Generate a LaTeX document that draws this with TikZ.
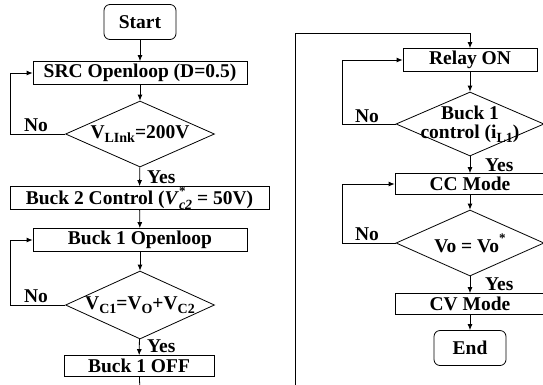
\documentclass[tikz,border=0pt]{standalone}
\usepackage{fontspec}
\setmainfont{Liberation Serif}
\usetikzlibrary{shapes.geometric,arrows.meta}
\newcommand\subtxt[1]{\raisebox{-0.22em}{\fontsize{14}{14}\selectfont #1}}
\newcommand\suptxt[1]{\raisebox{0.5em}{\fontsize{13}{13}\selectfont #1}}
\newcommand\vstar{\textit{V}\rlap{\suptxt{*}}\subtxt{\textit{c2}}}
\begin{document}
\begin{tikzpicture}[x=1pt,y=-1pt,
  font=\fontsize{19.5}{20}\selectfont\bfseries,
  box/.style={draw, line width=0.8pt, minimum height=23pt, inner sep=0pt},
  term/.style={box, rounded corners=6pt, minimum width=72pt, minimum height=35pt},
  dec/.style={draw, diamond, line width=0.8pt, minimum width=149pt, minimum height=66pt, inner sep=0pt},
  flow/.style={line width=0.8pt, -{Latex[length=6pt,width=5pt]}},
  plain/.style={line width=0.8pt},
  lbl/.style={inner sep=1pt}
]
\clip (0,0) rectangle (543,384);
% left column
\node[term] (start) at (140,22) {Start};
\node[box, minimum width=214pt] (src) at (140,73) {SRC Openloop (D=0.5)};
\node[dec] (d1) at (140,134) {};
\node (t1) at (d1.center) {V\subtxt{LInk}=200V};
\node[box, minimum width=259pt] (buck2) at (139.5,198) {Buck 2 Control (\vstar{} = 50V)};
\node[box, minimum width=214pt] (b1open) at (140,240) {Buck 1 Openloop};
\node[dec, minimum height=68pt] (d2) at (140,305) {};
\node (t2) at (d2.center) {V\subtxt{C1}=V\subtxt{O}+V\subtxt{C2}};
\node[box, minimum width=150pt, minimum height=21pt] (b1off) at (139,366) {Buck 1 OFF};
\node[lbl] (no1) at (36,125) {No};
\node[lbl] (no2) at (36,296) {No};
\node[lbl, anchor=west] (yes1) at (146,177) {Yes};
\node[lbl, anchor=west] (yes2) at (146,346) {Yes};
% right column
\node[box, minimum width=134pt] (relay) at (470,60) {Relay ON};
\node[dec, minimum width=148pt, minimum height=64pt] (d3) at (470,124) {};
\node[align=center] (t3) at (d3.center) {Buck 1\\[-1pt]control (i\subtxt{L1})};
\node[box, minimum width=150pt, minimum height=21pt] (cc) at (470,184) {CC Mode};
\node[dec, minimum width=148pt] (d4) at (470,243) {};
\node (t4) at (d4.center) {Vo = Vo\suptxt{*}};
\node[box, minimum width=150pt, minimum height=21pt] (cv) at (470,304) {CV Mode};
\node[term] (end) at (470,348) {End};
\node[lbl] (no3) at (367,116) {No};
\node[lbl] (no4) at (367,234) {No};
\node[lbl, anchor=west] (yes3) at (484,165) {Yes};
\node[lbl, anchor=west] (yes4) at (484,284) {Yes};
\coordinate (bl) at (140,392);
\coordinate (br) at (295,392);
% connectors left
\draw[flow] (start) -- (src);
\draw[flow] (src) -- (d1);
\draw[flow] (d1) -- (buck2);
\draw[flow] (d1.west) -- (10,134) |- (src.west);
\draw[flow] (buck2) -- (b1open);
\draw[flow] (b1open) -- (d2);
\draw[flow] (d2) -- (b1off);
\draw[flow] (d2.west) -- (10,305) |- (b1open.west);
\draw[plain] (b1off) -- (bl);
% connectors right
\draw[flow] (br) -- (295,33) -| (relay.north);
\draw[flow] (relay) -- (d3);
\draw[flow] (d3.west) -- (342,124) |- (relay.west);
\draw[flow] (d3) -- (cc);
\draw[flow] (cc) -- (d4);
\draw[flow] (d4.west) -- (342,243) |- (cc.west);
\draw[flow] (d4) -- (cv);
\draw[flow] (cv) -- (end);
\end{tikzpicture}
\end{document}
